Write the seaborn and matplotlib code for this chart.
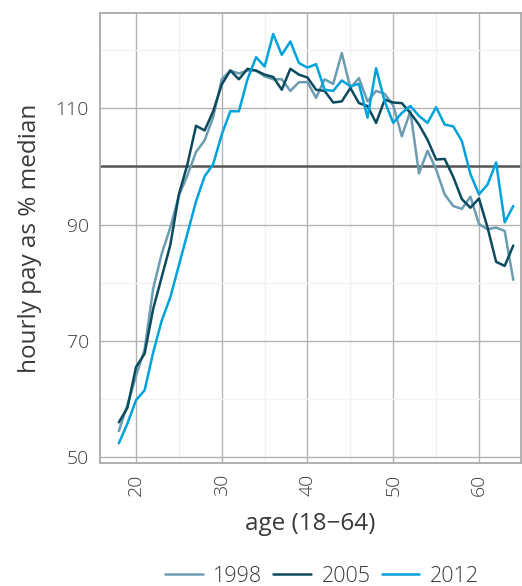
import numpy as np
import pandas as pd
import matplotlib.pyplot as plt
import seaborn as sns
from matplotlib.ticker import MultipleLocator
from matplotlib.lines import Line2D

ages = list(range(18, 65))

pay_1998 = [54.5, 59, 64, 68.5, 79, 85, 89.5, 95, 98.5, 102.5, 104.5, 108.5, 115, 116.5, 116,
            116.5, 116.5, 115.5, 115, 115, 113, 114.5, 114.5, 111.8, 115, 114.2, 119.5, 113.5,
            115.2, 111.2, 113, 112.5, 110.5, 105.2, 109.5, 98.8, 102.7, 99.5, 95.2, 93.2, 92.7,
            94.8, 90.1, 89.2, 89.5, 88.9, 80.5]
pay_2005 = [56, 58.5, 65.5, 67.8, 75.5, 81, 86.5, 95.2, 100.4, 107, 106.2, 109.5, 114.1, 116.5,
            115, 116.8, 116.5, 115.8, 115.4, 113.2, 116.8, 115.8, 115.3, 113.2, 113, 111, 111.2,
            113.5, 110.9, 110.4, 107.5, 111.5, 111, 110.9, 109.2, 107.2, 104.6, 101.2, 101.3,
            98.2, 94.4, 92.9, 94.5, 89.5, 83.6, 82.9, 86.4]
pay_2012 = [52.4, 55.8, 59.8, 61.5, 68, 73.5, 77.5, 83, 88.5, 94, 98.3, 100.4, 105.5, 109.5,
            109.5, 115, 118.8, 117.2, 122.8, 119.2, 121.5, 117.8, 117, 117.6, 113.2, 113, 114.8,
            113.8, 114.2, 108.4, 116.9, 111.2, 107.5, 109.2, 110.4, 108.7, 107.5, 110.2, 107.2,
            106.9, 104.4, 98.7, 95.2, 96.9, 100.7, 90.4, 93.2]

years = ['1998', '2005', '2012']
colors = {'1998': '#6b9cb1', '2005': '#0c4a5f', '2012': '#00a2dc'}

df = pd.DataFrame({
    'age': ages * 3,
    'pay': pay_1998 + pay_2005 + pay_2012,
    'year': [y for y in years for _ in ages],
})

sns.set_theme(style='white')
plt.rcParams['font.family'] = ['Open Sans', 'DejaVu Sans']
plt.rcParams['font.weight'] = 'light'
txt = '#3a3a3a'

fig = plt.figure(figsize=(5.22, 5.86), dpi=100)
ax = fig.add_axes([100 / 522, 1 - 463 / 586, 421 / 522, 450 / 586])

ax.xaxis.set_major_locator(MultipleLocator(10))
ax.xaxis.set_minor_locator(MultipleLocator(5))
ax.yaxis.set_major_locator(MultipleLocator(20))
ax.yaxis.set_minor_locator(MultipleLocator(10))
ax.grid(True, which='major', color='#b3b3b3', linewidth=1.0)
ax.grid(True, which='minor', color='#f2f2f2', linewidth=1.0)
ax.set_axisbelow(True)

ax.axhline(100, color='#555555', linewidth=1.8, zorder=1.5)

sns.lineplot(data=df, x='age', y='pay', hue='year', palette=colors, linewidth=1.8,
             legend=False, ax=ax, zorder=3)

ax.set_xlim(15.8, 64.9)
ax.set_ylim(49, 126.4)
ax.set_yticks([50, 70, 90, 110])
ax.set_xticks([20, 30, 40, 50, 60])

for s in ax.spines.values():
    s.set_color('#aaaaaa')
    s.set_linewidth(1.3)

ax.tick_params(axis='both', which='major', length=5, width=1.3, color='#aaaaaa',
               labelcolor=txt, labelsize=14, direction='out', pad=3)
ax.tick_params(which='minor', length=0)
ax.tick_params(axis='x', labelrotation=90)

ax.set_xlabel('age (18\u221264)', fontsize=17.5, color=txt, labelpad=11)
ax.set_ylabel('hourly pay as % median', fontsize=17.5, color=txt, labelpad=10)

handles = [Line2D([], [], color=colors[y], linewidth=1.8) for y in years]
fig.legend(handles, years, loc='center', bbox_to_anchor=(322 / 522, 1 - 576 / 586),
           ncol=3, frameon=False, fontsize=15.5, handlelength=1.75, columnspacing=0.5,
           handletextpad=0.5, labelcolor=txt)

fig.savefig('out.png', dpi=100)
